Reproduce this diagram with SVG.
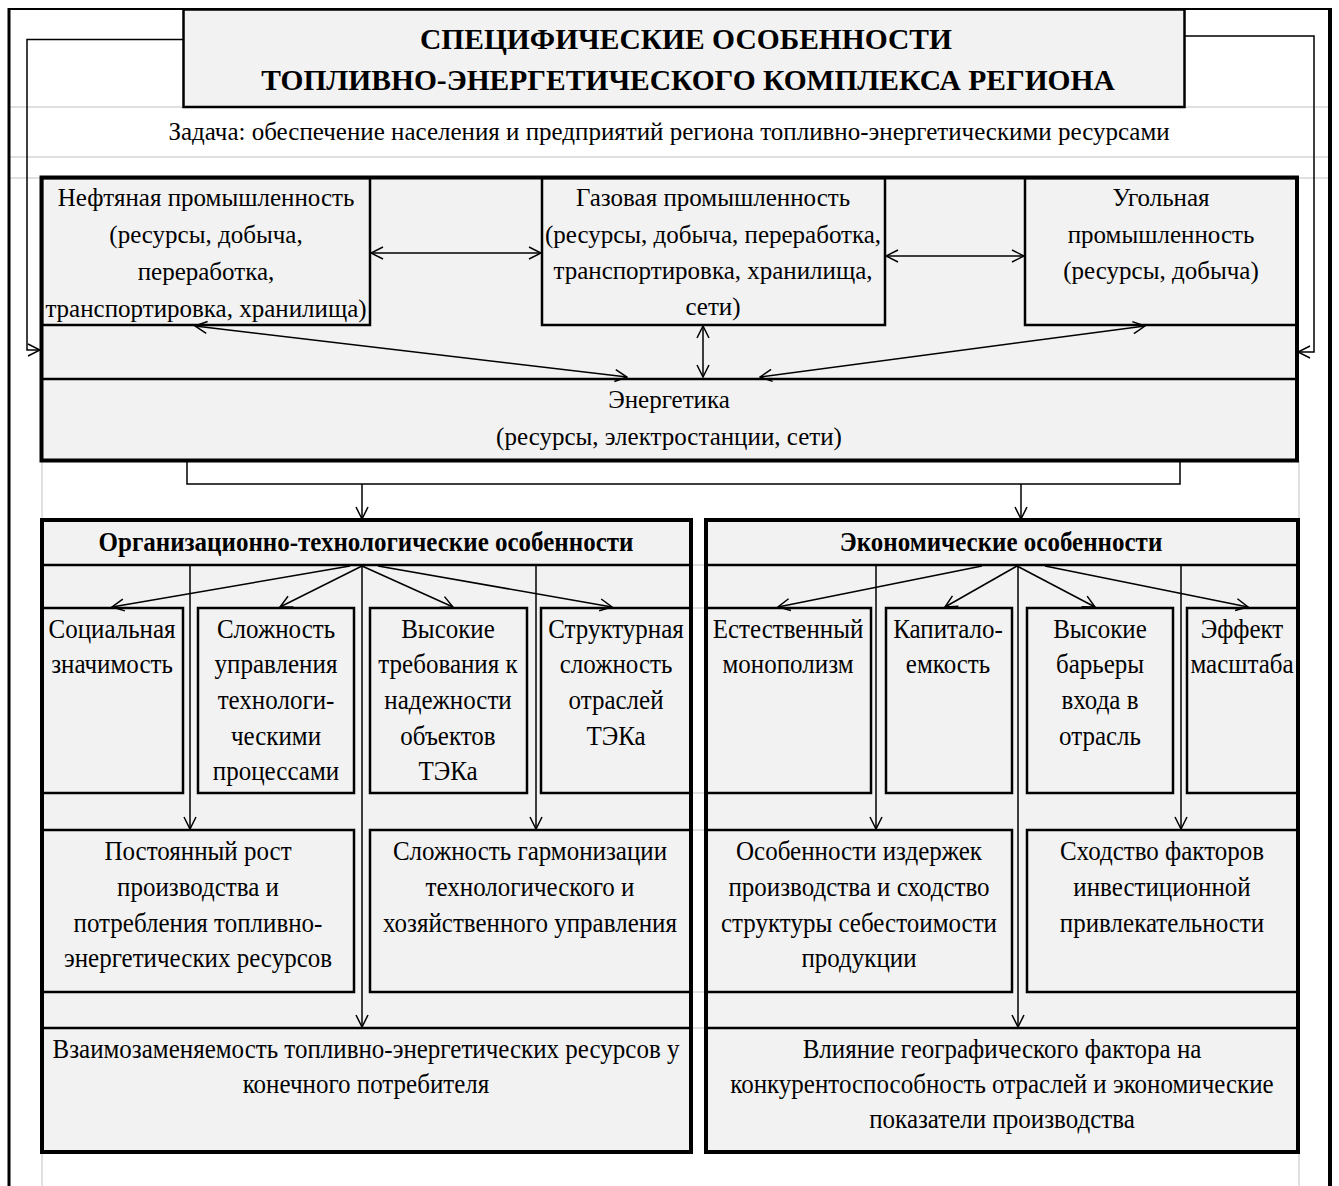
<svg xmlns="http://www.w3.org/2000/svg" width="1339" height="1186" viewBox="0 0 1339 1186">
  <defs>
    <style>
      .bg { fill: #f2f2f2; stroke: none; }
      .box { fill: #f2f2f2; stroke: #000; stroke-width: 2.5; }
      .frame { fill: none; stroke: #000; stroke-width: 4; }
      .grid { fill: none; stroke: #d6d6d6; stroke-width: 1.5; }
      .ln { fill: none; stroke: #000; stroke-width: 1.5; }
      .div { stroke: #000; stroke-width: 2.5; }
      .t { font-family: "Liberation Serif", "Times New Roman", serif; font-size: 25px; text-anchor: middle; fill: #000; }
      .s { font-size: 27px; }
      .b { font-weight: bold; }
      .h { font-size: 29.5px; font-weight: bold; }
    </style>
    <marker id="ah" viewBox="0 0 14 14" refX="13" refY="7" markerWidth="14" markerHeight="14" markerUnits="userSpaceOnUse" orient="auto-start-reverse">
      <path d="M1,1 L13,7 L1,13" fill="none" stroke="#000" stroke-width="1.5"/>
    </marker>
  </defs>

  <!-- page table grid -->
  <g id="grid">
    <line class="grid" x1="8" y1="107" x2="1330" y2="107"/>
    <line class="grid" x1="8" y1="157" x2="1330" y2="157"/>
    <line class="grid" x1="8" y1="178" x2="1330" y2="178"/>
    <line class="grid" x1="42" y1="460" x2="42" y2="520"/>
    <line class="grid" x1="1299" y1="460" x2="1299" y2="520"/>
    <line class="grid" x1="42" y1="1152" x2="42" y2="1186"/>
    <line class="grid" x1="1299" y1="1152" x2="1299" y2="1186"/>
    <line class="grid" x1="691" y1="565" x2="706" y2="565"/>
    <line class="grid" x1="691" y1="608" x2="706" y2="608"/>
    <line class="grid" x1="691" y1="793" x2="706" y2="793"/>
    <line class="grid" x1="691" y1="830" x2="706" y2="830"/>
    <line class="grid" x1="691" y1="992" x2="706" y2="992"/>
    <line class="grid" x1="691" y1="1028" x2="706" y2="1028"/>
  </g>

  <!-- outer page frame -->
  <g id="page-frame">
    <line x1="8" y1="9" x2="1331" y2="9" stroke="#000" stroke-width="2"/>
    <line x1="9" y1="8" x2="9" y2="1186" stroke="#000" stroke-width="3"/>
    <line x1="1330" y1="8" x2="1330" y2="1186" stroke="#000" stroke-width="4"/>
  </g>

  <!-- title -->
  <g id="node-title">
    <rect class="box" x="183.5" y="9.5" width="1001" height="97.5"/>
    <text class="t h" x="686" y="49">СПЕЦИФИЧЕСКИЕ ОСОБЕННОСТИ</text>
    <text class="t h" x="688" y="90">ТОПЛИВНО-ЭНЕРГЕТИЧЕСКОГО КОМПЛЕКСА РЕГИОНА</text>
  </g>

  <g id="node-task">
    <text class="t" x="669" y="140">Задача: обеспечение населения и предприятий региона топливно-энергетическими ресурсами</text>
  </g>

  <!-- container backgrounds -->
  <g id="backgrounds">
    <rect class="bg" x="41.5" y="177.5" width="1255.5" height="283"/>
    <rect class="bg" x="42" y="520" width="649" height="632"/>
    <rect class="bg" x="706" y="520" width="592" height="632"/>
  </g>

  <!-- industries -->
  <g id="node-oil">
    <rect class="box" x="42" y="178" width="328" height="147"/>
    <text class="t" x="206" y="206">Нефтяная промышленность</text>
    <text class="t" x="206" y="243">(ресурсы, добыча,</text>
    <text class="t" x="206" y="280">переработка,</text>
    <text class="t" x="206" y="317">транспортировка, хранилища)</text>
  </g>
  <g id="node-gas">
    <rect class="box" x="542" y="178" width="343" height="147"/>
    <text class="t" x="713" y="206">Газовая промышленность</text>
    <text class="t" x="713" y="243">(ресурсы, добыча, переработка,</text>
    <text class="t" x="713" y="279">транспортировка, хранилища,</text>
    <text class="t" x="713" y="315">сети)</text>
  </g>
  <g id="node-coal">
    <rect class="box" x="1025" y="178" width="272" height="147"/>
    <text class="t" x="1161" y="206">Угольная</text>
    <text class="t" x="1161" y="243">промышленность</text>
    <text class="t" x="1161" y="279">(ресурсы, добыча)</text>
  </g>
  <g id="node-energy">
    <line class="div" x1="42" y1="379" x2="1297" y2="379"/>
    <text class="t" x="669" y="408">Энергетика</text>
    <text class="t" x="669" y="445">(ресурсы, электростанции, сети)</text>
  </g>
  <g id="node-fuel-complex">
    <rect class="frame" x="41.5" y="177.5" width="1255.5" height="283"/>
  </g>

  <!-- organisational and technological features -->
  <g id="node-social">
    <rect class="box" x="42" y="608" width="141" height="185"/>
    <g transform="translate(112 0) scale(0.926 1)">
      <text class="t s" x="0" y="638">Социальная</text>
      <text class="t s" x="0" y="673">значимость</text>
    </g>
  </g>
  <g id="node-control">
    <rect class="box" x="198" y="608" width="156" height="185"/>
    <g transform="translate(276 0) scale(0.926 1)">
      <text class="t s" x="0" y="638">Сложность</text>
      <text class="t s" x="0" y="673">управления</text>
      <text class="t s" x="0" y="709">технологи-</text>
      <text class="t s" x="0" y="745">ческими</text>
      <text class="t s" x="0" y="780">процессами</text>
    </g>
  </g>
  <g id="node-reliability">
    <rect class="box" x="370" y="608" width="157" height="185"/>
    <g transform="translate(448 0) scale(0.926 1)">
      <text class="t s" x="0" y="638">Высокие</text>
      <text class="t s" x="0" y="673">требования к</text>
      <text class="t s" x="0" y="709">надежности</text>
      <text class="t s" x="0" y="745">объектов</text>
      <text class="t s" x="0" y="780">ТЭКа</text>
    </g>
  </g>
  <g id="node-structure">
    <rect class="box" x="541" y="608" width="150" height="185"/>
    <g transform="translate(616 0) scale(0.926 1)">
      <text class="t s" x="0" y="638">Структурная</text>
      <text class="t s" x="0" y="673">сложность</text>
      <text class="t s" x="0" y="709">отраслей</text>
      <text class="t s" x="0" y="745">ТЭКа</text>
    </g>
  </g>
  <g id="node-growth">
    <rect class="box" x="42" y="830" width="312" height="162"/>
    <g transform="translate(198 0) scale(0.926 1)">
      <text class="t s" x="0" y="860">Постоянный рост</text>
      <text class="t s" x="0" y="896">производства и</text>
      <text class="t s" x="0" y="932">потребления топливно-</text>
      <text class="t s" x="0" y="967">энергетических ресурсов</text>
    </g>
  </g>
  <g id="node-harmonisation">
    <rect class="box" x="370" y="830" width="321" height="162"/>
    <g transform="translate(530 0) scale(0.926 1)">
      <text class="t s" x="0" y="860">Сложность гармонизации</text>
      <text class="t s" x="0" y="896">технологического и</text>
      <text class="t s" x="0" y="932">хозяйственного управления</text>
    </g>
  </g>
  <g id="node-substitution">
    <rect class="box" x="42" y="1028" width="649" height="124"/>
    <g transform="translate(366 0) scale(0.926 1)">
      <text class="t s" x="0" y="1058">Взаимозаменяемость топливно-энергетических ресурсов у</text>
      <text class="t s" x="0" y="1093">конечного потребителя</text>
    </g>
  </g>
  <g id="node-org-tech">
    <rect class="frame" x="42" y="520" width="649" height="632"/>
    <line class="div" x1="42" y1="565" x2="691" y2="565"/>
    <g transform="translate(366 0) scale(0.926 1)">
      <text class="t s b" x="0" y="551">Организационно-технологические особенности</text>
    </g>
  </g>

  <!-- economic features -->
  <g id="node-monopoly">
    <rect class="box" x="706" y="608" width="165" height="185"/>
    <g transform="translate(788 0) scale(0.926 1)">
      <text class="t s" x="0" y="638">Естественный</text>
      <text class="t s" x="0" y="673">монополизм</text>
    </g>
  </g>
  <g id="node-capital">
    <rect class="box" x="886" y="608" width="126" height="185"/>
    <g transform="translate(948 0) scale(0.926 1)">
      <text class="t s" x="0" y="638">Капитало-</text>
      <text class="t s" x="0" y="673">емкость</text>
    </g>
  </g>
  <g id="node-barriers">
    <rect class="box" x="1027" y="608" width="146" height="185"/>
    <g transform="translate(1100 0) scale(0.926 1)">
      <text class="t s" x="0" y="638">Высокие</text>
      <text class="t s" x="0" y="673">барьеры</text>
      <text class="t s" x="0" y="709">входа в</text>
      <text class="t s" x="0" y="745">отрасль</text>
    </g>
  </g>
  <g id="node-scale">
    <rect class="box" x="1187" y="608" width="111" height="185"/>
    <g transform="translate(1242 0) scale(0.926 1)">
      <text class="t s" x="0" y="638">Эффект</text>
      <text class="t s" x="0" y="673">масштаба</text>
    </g>
  </g>
  <g id="node-costs">
    <rect class="box" x="706" y="830" width="306" height="162"/>
    <g transform="translate(859 0) scale(0.926 1)">
      <text class="t s" x="0" y="860">Особенности издержек</text>
      <text class="t s" x="0" y="896">производства и сходство</text>
      <text class="t s" x="0" y="932">структуры себестоимости</text>
      <text class="t s" x="0" y="967">продукции</text>
    </g>
  </g>
  <g id="node-investment">
    <rect class="box" x="1027" y="830" width="271" height="162"/>
    <g transform="translate(1162 0) scale(0.926 1)">
      <text class="t s" x="0" y="860">Сходство факторов</text>
      <text class="t s" x="0" y="896">инвестиционной</text>
      <text class="t s" x="0" y="932">привлекательности</text>
    </g>
  </g>
  <g id="node-geography">
    <rect class="box" x="706" y="1028" width="592" height="124"/>
    <g transform="translate(1002 0) scale(0.926 1)">
      <text class="t s" x="0" y="1058">Влияние географического фактора на</text>
      <text class="t s" x="0" y="1093">конкурентоспособность отраслей и экономические</text>
      <text class="t s" x="0" y="1128">показатели производства</text>
    </g>
  </g>
  <g id="node-economic">
    <rect class="frame" x="706" y="520" width="592" height="632"/>
    <line class="div" x1="706" y1="565" x2="1298" y2="565"/>
    <g transform="translate(1001 0) scale(0.926 1)">
      <text class="t s b" x="0" y="551">Экономические особенности</text>
    </g>
  </g>

  <!-- connectors -->
  <g id="connectors">
    <!-- feedback loops from the title to energy -->
    <polyline class="ln" points="183,39.5 27,39.5 27,350 40,350" marker-end="url(#ah)"/>
    <polyline class="ln" points="1185,36 1314,36 1314,352 1298,352" marker-end="url(#ah)"/>
    <!-- links between industries -->
    <line class="ln" x1="371" y1="253" x2="541" y2="253" marker-start="url(#ah)" marker-end="url(#ah)"/>
    <line class="ln" x1="886" y1="256" x2="1024" y2="256" marker-start="url(#ah)" marker-end="url(#ah)"/>
    <line class="ln" x1="703" y1="326" x2="703" y2="377" marker-start="url(#ah)" marker-end="url(#ah)"/>
    <line class="ln" x1="195" y1="326" x2="627" y2="377" marker-start="url(#ah)" marker-end="url(#ah)"/>
    <line class="ln" x1="1145" y1="326" x2="760" y2="377" marker-start="url(#ah)" marker-end="url(#ah)"/>
    <!-- split into the two feature groups -->
    <polyline class="ln" points="187,462 187,484 1180,484 1180,462"/>
    <line class="ln" x1="362" y1="484" x2="362" y2="519" marker-end="url(#ah)"/>
    <line class="ln" x1="1021" y1="484" x2="1021" y2="519" marker-end="url(#ah)"/>
    <!-- organisational and technological fan-out -->
    <line class="ln" x1="350" y1="566" x2="112" y2="607" marker-end="url(#ah)"/>
    <line class="ln" x1="362" y1="566" x2="280" y2="607" marker-end="url(#ah)"/>
    <line class="ln" x1="362" y1="566" x2="453" y2="607" marker-end="url(#ah)"/>
    <line class="ln" x1="378" y1="566" x2="612" y2="607" marker-end="url(#ah)"/>
    <line class="ln" x1="190" y1="566" x2="190" y2="829" marker-end="url(#ah)"/>
    <line class="ln" x1="362" y1="566" x2="362" y2="1027" marker-end="url(#ah)"/>
    <line class="ln" x1="536" y1="566" x2="536" y2="829" marker-end="url(#ah)"/>
    <!-- economic fan-out -->
    <line class="ln" x1="982" y1="566" x2="778" y2="607" marker-end="url(#ah)"/>
    <line class="ln" x1="1017" y1="566" x2="945" y2="607" marker-end="url(#ah)"/>
    <line class="ln" x1="1017" y1="566" x2="1095" y2="607" marker-end="url(#ah)"/>
    <line class="ln" x1="1045" y1="566" x2="1248" y2="607" marker-end="url(#ah)"/>
    <line class="ln" x1="876" y1="566" x2="876" y2="829" marker-end="url(#ah)"/>
    <line class="ln" x1="1018" y1="566" x2="1018" y2="1027" marker-end="url(#ah)"/>
    <line class="ln" x1="1181" y1="566" x2="1181" y2="829" marker-end="url(#ah)"/>
  </g>
</svg>
